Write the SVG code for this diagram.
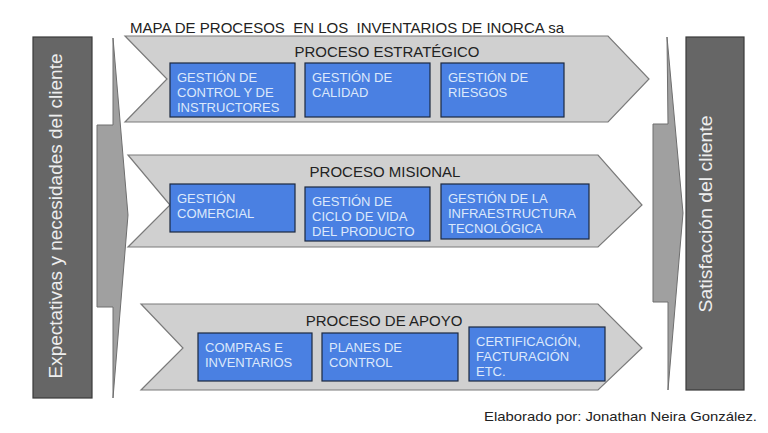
<svg xmlns="http://www.w3.org/2000/svg" width="768" height="433" viewBox="0 0 768 433">
<style>
.t{font-family:"Liberation Sans",Arial,sans-serif;}
.band{fill:#d0d0d0;stroke:#7a7a7a;stroke-width:1.2;}
.box{fill:#4a80e2;stroke:#1c2840;stroke-width:1.2;}
.bt{font-family:"Liberation Sans",Arial,sans-serif;font-size:13px;fill:#dce8fb;}
.bh{font-family:"Liberation Sans",Arial,sans-serif;font-size:15px;fill:#222;text-anchor:middle;}
.side{fill:#666;stroke:#3a3a3a;stroke-width:1.2;}
.arr{fill:#a0a0a0;stroke:#6e6e6e;stroke-width:1;}
.vt{font-family:"Liberation Sans",Arial,sans-serif;font-size:19px;fill:#eeeeee;text-anchor:middle;}
</style>
<rect width="768" height="433" fill="#fff"/>
<text class="t" x="130" y="33" font-size="15" fill="#222" xml:space="preserve" textLength="434" lengthAdjust="spacingAndGlyphs">MAPA DE PROCESOS  EN LOS  INVENTARIOS DE INORCA sa</text>
<g id="left-client">
<rect class="side" x="33" y="37" width="59" height="361"/>
<text class="vt" transform="translate(62,216) rotate(-90)" textLength="325" lengthAdjust="spacingAndGlyphs">Expectativas y necesidades del cliente</text>
</g>
<g id="left-arrow">
<polygon class="arr" points="97,125 113,125 113,38 128,215 113,398 113,307 97,307"/>
</g>
<g id="right-arrow">
<polygon class="arr" points="653,124 668,124 667,37 683,213 668,390 668,302 653,302"/>
</g>
<g id="right-client">
<rect class="side" x="686" y="37" width="58" height="353"/>
<text class="vt" transform="translate(712,214) rotate(-90)" textLength="197" lengthAdjust="spacingAndGlyphs">Satisfacción del cliente</text>
</g>
<g id="proceso-estrategico">
<polygon class="band" points="125,36 608,36 649,79 608,122 125,122 167,79"/>
<text class="bh" x="387" y="57" textLength="185" lengthAdjust="spacingAndGlyphs">PROCESO ESTRATÉGICO</text>
<g id="gestion-control">
<rect class="box" x="170" y="63" width="125" height="54"/>
<text class="bt" x="177" y="82">GESTIÓN DE</text>
<text class="bt" x="177" y="97">CONTROL Y DE</text>
<text class="bt" x="177" y="112">INSTRUCTORES</text>
</g>
<g id="gestion-calidad">
<rect class="box" x="305" y="63" width="125" height="54"/>
<text class="bt" x="312" y="82">GESTIÓN DE</text>
<text class="bt" x="312" y="97">CALIDAD</text>
</g>
<g id="gestion-riesgos">
<rect class="box" x="441" y="63" width="123" height="54"/>
<text class="bt" x="448" y="82">GESTIÓN DE</text>
<text class="bt" x="448" y="97">RIESGOS</text>
</g>
</g>
<g id="proceso-misional">
<polygon class="band" points="128,155 598,155 642,205 598,247 128,247 170,205"/>
<text class="bh" x="385" y="177">PROCESO MISIONAL</text>
<g id="gestion-comercial">
<rect class="box" x="170" y="184" width="125" height="48"/>
<text class="bt" x="177" y="203">GESTIÓN</text>
<text class="bt" x="177" y="218">COMERCIAL</text>
</g>
<g id="gestion-ciclo">
<rect class="box" x="305" y="187" width="125" height="54"/>
<text class="bt" x="312" y="206">GESTIÓN DE</text>
<text class="bt" x="312" y="221">CICLO DE VIDA</text>
<text class="bt" x="312" y="236">DEL PRODUCTO</text>
</g>
<g id="gestion-infra">
<rect class="box" x="441" y="184" width="148" height="55"/>
<text class="bt" x="448" y="203">GESTIÓN DE LA</text>
<text class="bt" x="448" y="218">INFRAESTRUCTURA</text>
<text class="bt" x="448" y="233">TECNOLÓGICA</text>
</g>
</g>
<g id="proceso-apoyo">
<polygon class="band" points="141,304 598,304 642,348 598,390 141,390 183,348"/>
<text class="bh" x="384" y="326">PROCESO DE APOYO</text>
<g id="compras">
<rect class="box" x="198" y="333" width="114" height="48"/>
<text class="bt" x="205" y="352">COMPRAS E</text>
<text class="bt" x="205" y="367">INVENTARIOS</text>
</g>
<g id="planes">
<rect class="box" x="322" y="333" width="136" height="48"/>
<text class="bt" x="329" y="352">PLANES DE</text>
<text class="bt" x="329" y="367">CONTROL</text>
</g>
<g id="certificacion">
<rect class="box" x="469" y="327" width="136" height="54"/>
<text class="bt" x="476" y="346">CERTIFICACIÓN,</text>
<text class="bt" x="476" y="361">FACTURACIÓN</text>
<text class="bt" x="476" y="376">ETC.</text>
</g>
</g>
<text class="t" x="484" y="421" font-size="13" fill="#222" textLength="273" lengthAdjust="spacingAndGlyphs">Elaborado por: Jonathan Neira González.</text>
<g id="connectors"></g>
</svg>
